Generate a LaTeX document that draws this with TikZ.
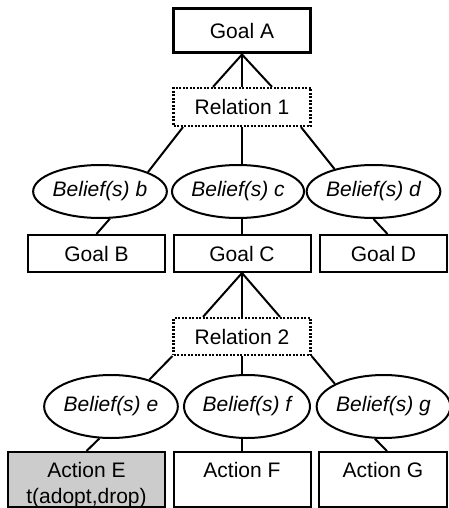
\documentclass[tikz,border=0pt]{standalone}
\usepackage{fontspec}
\setmainfont{Liberation Sans}
\usetikzlibrary{shapes.geometric}
\begin{document}
\begin{tikzpicture}[x=1pt,y=-1pt,
  every node/.style={font=\fontsize{21}{25}\selectfont, inner sep=0pt},
  box/.style={draw, line width=2pt, minimum width=137pt, minimum height=37pt},
  goalbox/.style={box, line width=3pt, minimum height=44pt},
  relbox/.style={draw, line width=2.2pt, dash pattern=on 2pt off 1.5pt,
    minimum width=137pt, minimum height=38pt},
  belief/.style={ellipse, draw, line width=2pt,
    font=\fontsize{21}{25}\selectfont\itshape,
    minimum width=126pt, minimum height=53pt},
  actbox/.style={box, minimum height=55pt},
  acttext/.style={anchor=base},
  link/.style={line width=2pt}]

\useasboundingbox (0,0) rectangle (448,508);

% top goal and its relation
\node[goalbox] (goalA) at (242,31) {Goal A};
\node[relbox] (rel1) at (242,107) {Relation 1};

% first belief row and sub-goals
\node[belief] (eb) at (100,191.5) {Belief(s) b};
\node[belief] (ec) at (238,191.5) {Belief(s) c};
\node[belief] (ed) at (373.5,191.5) {Belief(s) d};

\node[box] (gb) at (96.5,253.5) {Goal B};
\node[box] (gc) at (242,253.5) {Goal C};
\node[box, minimum width=127pt] (gd) at (383.5,253.5) {Goal D};

% second relation, beliefs and actions
\node[relbox, minimum height=37pt] (rel2) at (242,336.5) {Relation 2};

\node[belief, minimum width=128pt, minimum height=63pt] (ee) at (111,406.5) {Belief(s) e};
\node[belief, minimum width=126pt, minimum height=63pt] (ef) at (247,406.5) {Belief(s) f};
\node[belief, minimum width=127pt, minimum height=63pt] (eg) at (383.5,406.5) {Belief(s) g};

\node[actbox, fill=black!20, minimum width=157pt] (ae) at (86.5,479.5) {};
\node[actbox] (af) at (242,479.5) {};
\node[actbox, minimum width=128pt] (ag) at (383,479.5) {};
\node[acttext] (aet) at (86.5,477) {Action E};
\node[acttext] (aeb) at (86.5,503) {t(adopt,drop)};
\node[acttext] (aft) at (242,477) {Action F};
\node[acttext] (agt) at (383,477) {Action G};

% Goal A -- Relation 1
\draw[link] (goalA.south) -- ([xshift=-29pt]rel1.north);
\draw[link] (goalA.south) -- (rel1.north);
\draw[link] (goalA.south) -- ([xshift=30pt]rel1.north);

% Relation 1 -- beliefs
\draw[link] ([xshift=-59pt]rel1.south) -- (eb.north east);
\draw[link] (rel1.south) -- (rel1.south |- ec.north);
\draw[link] ([xshift=59pt]rel1.south) -- (ed.150);

% beliefs -- goals
\draw[link] (eb.-70) -- (gb.north);
\draw[link] (gc.north |- ec.south) -- (gc.north);
\draw[link] (ed.south) -- ([xshift=4pt]gd.north);

% Goal C -- Relation 2
\draw[link] (gc.south) -- ([xshift=-39pt]rel2.north);
\draw[link] (gc.south) -- (rel2.north);
\draw[link] (gc.south) -- ([xshift=38pt]rel2.north);

% Relation 2 -- beliefs
\draw[link] (rel2.south west) -- (ee.35);
\draw[link] (rel2.south) -- (rel2.south |- ef.north);
\draw[link] (rel2.south east) -- (eg.155);

% beliefs -- actions
\draw[link] (ee.-110) -- (ae.north);
\draw[link] (af.north |- ef.south) -- (af.north);
\draw[link] (eg.-105) -- ([xshift=4pt]ag.north);
\end{tikzpicture}
\end{document}
